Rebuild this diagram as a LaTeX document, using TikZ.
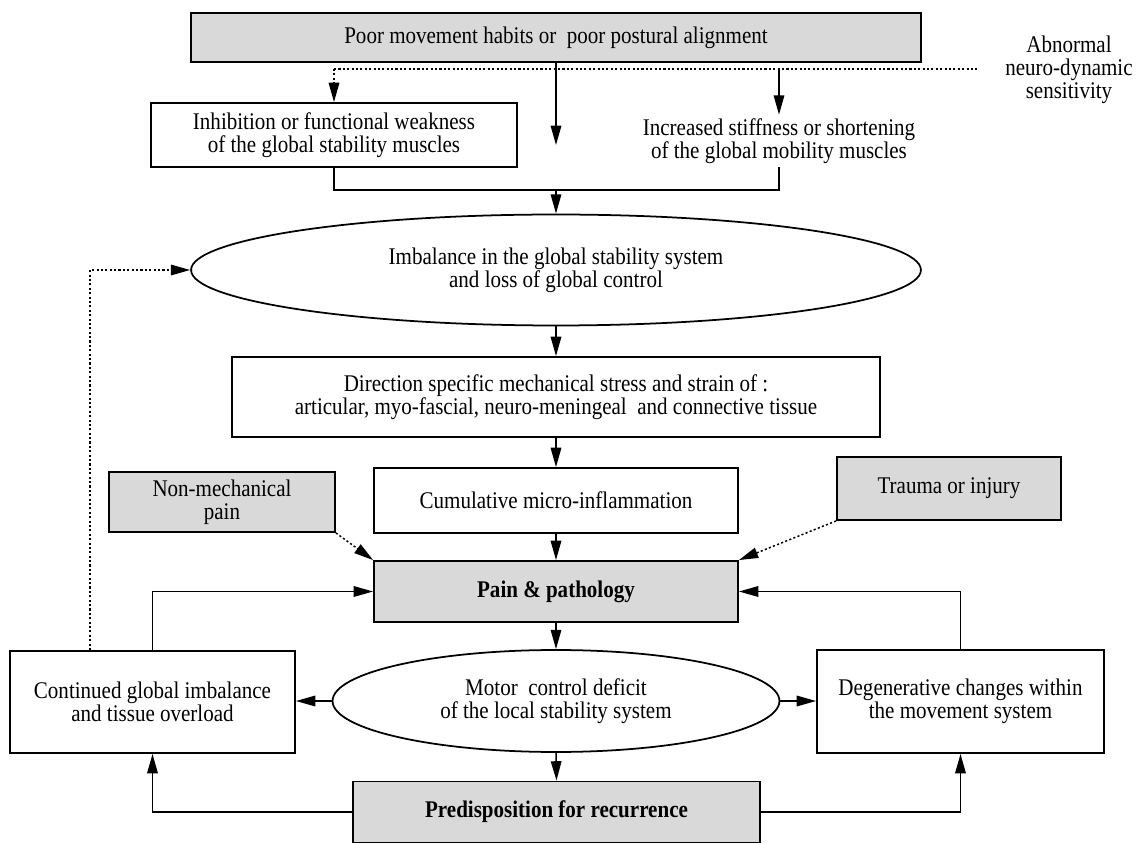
\documentclass[tikz,border=0pt]{standalone}
\usepackage{fontspec}
\setmainfont{Liberation Serif}[FakeStretch=0.88]
\usetikzlibrary{arrows.meta,shapes.geometric,calc}
\definecolor{boxgray}{RGB}{217,217,217}
\begin{document}
\begin{tikzpicture}[x=0.02cm,y=-0.02cm,
  every node/.style={font=\fontsize{13.6}{13}\selectfont, align=center, inner sep=0pt},
  box/.style={draw, line width=1.1pt, rectangle},
  gbox/.style={box, fill=boxgray},
  ell/.style={draw, line width=1pt, ellipse, inner sep=0pt},
  boldtext/.style={font=\fontsize{13.6}{13}\selectfont\bfseries},
  conn/.style={line width=0.85pt},
  arr/.style={conn, -{Triangle[length=11pt,width=6pt]}},
  dotln/.style={line width=0.85pt, dash pattern=on 1.2pt off 1.3pt},
  dotarr/.style={dotln, -{Triangle[length=11pt,width=6pt]}},
]
\useasboundingbox (0,0) rectangle (1137,844);

% nodes
\node[gbox, minimum width=14.6cm, minimum height=0.98cm] (top) at (556,37.5) {Poor movement habits or\ \ poor postural alignment};
\node (abn) at (1069,70) {Abnormal\\neuro-dynamic\\sensitivity};
\node[box, minimum width=7.32cm, minimum height=1.28cm] (inhib) at (334,135) {Inhibition or functional weakness\\of the global stability muscles};
\node[minimum height=1.04cm] (stiff) at (779,141) {Increased stiffness or shortening\\of the global mobility muscles};
\node[ell, minimum width=14.6cm, minimum height=2.22cm] (ell1) at (556,270) {Imbalance in the global stability system\\and loss of global control};
\node[box, minimum width=12.96cm, minimum height=1.6cm] (dir) at (556,397) {Direction specific mechanical stress and strain of :\\articular, myo-fascial, neuro-meningeal\ \ and connective tissue};
\node[box, minimum width=7.28cm, minimum height=1.3cm] (cum) at (556,500.5) {Cumulative micro-inflammation};
\node[gbox, minimum width=4.52cm, minimum height=1.2cm] (nonmech) at (222,502) {Non-mechanical\\pain};
\node[gbox, minimum width=4.48cm, minimum height=1.26cm] (trauma) at (949,488.5) {Trauma or injury};
\node[gbox, boldtext, minimum width=7.28cm, minimum height=1.22cm] (pain) at (556,591.5) {Pain \& pathology};
\node[box, minimum width=5.7cm, minimum height=2.04cm] (cont) at (152.5,702) {Continued global imbalance\\and tissue overload};
\node[ell, minimum width=8.94cm, minimum height=2.04cm] (motor) at (556,701) {Motor\ \ control deficit\\of the local stability system};
\node[box, minimum width=5.74cm, minimum height=2.06cm] (degen) at (960.5,701.5) {Degenerative changes within\\the movement system};
\node[gbox, boldtext, minimum width=8.14cm, minimum height=1.22cm] (pred) at (556.5,812) {Predisposition for recurrence};

% helper coordinates
\coordinate (dl) at (inhib.north |- 0,69);
\coordinate (dr) at (979,69);
\coordinate (ctip) at (top.south |- 0,145);
\coordinate (junc) at (ell1.north |- 0,190);

% connectors
\draw[dotln] (dl) -- (dr);
\draw[dotarr] (dl) -- (inhib.north);
\draw[arr] (top.south) -- (ctip);
\draw[arr] (stiff.north |- dl) -- (stiff.north);
\draw[conn] (inhib.south) -- (inhib.south |- junc) -| (stiff.south);
\draw[arr] (junc) -- (ell1.north);
\draw[arr] (ell1.south) -- (dir.north);
\draw[arr] (dir.south) -- (cum.north);
\draw[arr] (cum.south) -- (pain.north);
\draw[dotarr] (nonmech.south east) -- (pain.north west);
\draw[dotarr] (trauma.south west) -- (pain.north east);
\draw[arr] (pain.south) -- (motor.north);
\draw[arr] (motor.south) -- (pred.north);
\draw[arr] (motor.west) -- (motor.west -| cont.east);
\draw[arr] (motor.east) -- (motor.east -| degen.west);
\draw[arr] (cont.north) |- (pain.west);
\draw[arr] (degen.north) |- (pain.east);
\draw[arr] (pred.west) -| (cont.south);
\draw[arr] (pred.east) -| (degen.south);
\draw[dotarr] ([xshift=1.62cm]cont.north west) |- (ell1.west);
\end{tikzpicture}
\end{document}
